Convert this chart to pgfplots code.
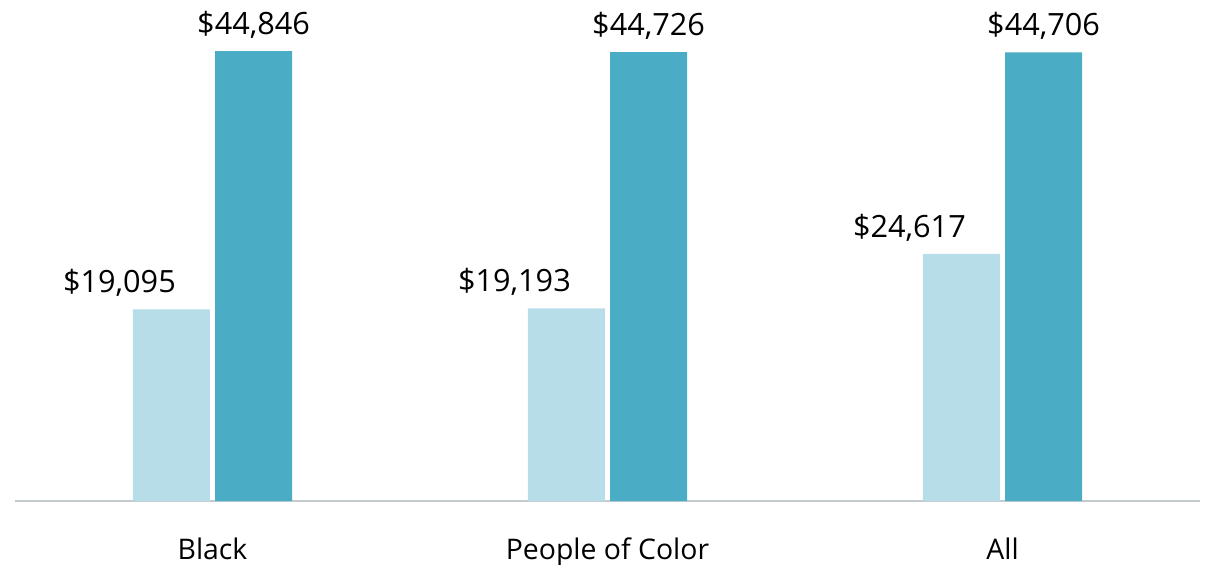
\documentclass[border=0pt]{standalone}
\usepackage{fontspec}
\setmainfont{Open Sans}
\usepackage{pgfplots}
\pgfplotsset{compat=1.18}
\usepackage{pgfplotstable}
\definecolor{lightbar}{HTML}{B7DDE8}
\definecolor{darkbar}{HTML}{4BACC6}
\definecolor{axisgray}{HTML}{C3CBCF}
\pgfplotstableread{
x light dark
0 19095 44846
1 19193 44726
2 24617 44706
}\data
\begin{document}
\begin{tikzpicture}
\begin{axis}[
  scale only axis,
  width=888.75pt, height=375.75pt,
  xmin=-0.5, xmax=2.5,
  ymin=0, ymax=49930,
  ybar,
  bar width=0.195,
  axis x line*=bottom,
  axis y line=none,
  x axis line style={draw=axisgray, line width=1.5pt, -},
  xtick=data,
  xticklabels={Black, People of Color, All},
  major tick length=0pt,
  xticklabel style={font=\fontsize{21.3}{25}\selectfont, yshift=-24pt},
  ytick=\empty,
  clip=false,
  /pgf/number format/assume math mode=true,
  nodes near coords={\$\pgfmathprintnumber[fixed,1000 sep={,}]{\pgfplotspointmeta}},
  every node near coord/.append style={font=\fontsize{23}{27}\selectfont, text=black, yshift=6pt},
]
\addplot[fill=lightbar, draw=none, bar shift=-0.104,
  every node near coord/.append style={xshift=-39pt}] table[x=x, y=light] {\data};
\addplot[fill=darkbar, draw=none, bar shift=0.104] table[x=x, y=dark] {\data};
\end{axis}
\pgfresetboundingbox
\path (-11.25pt,-47.25pt) rectangle (892.5pt,375.75pt);
\end{tikzpicture}
\end{document}
